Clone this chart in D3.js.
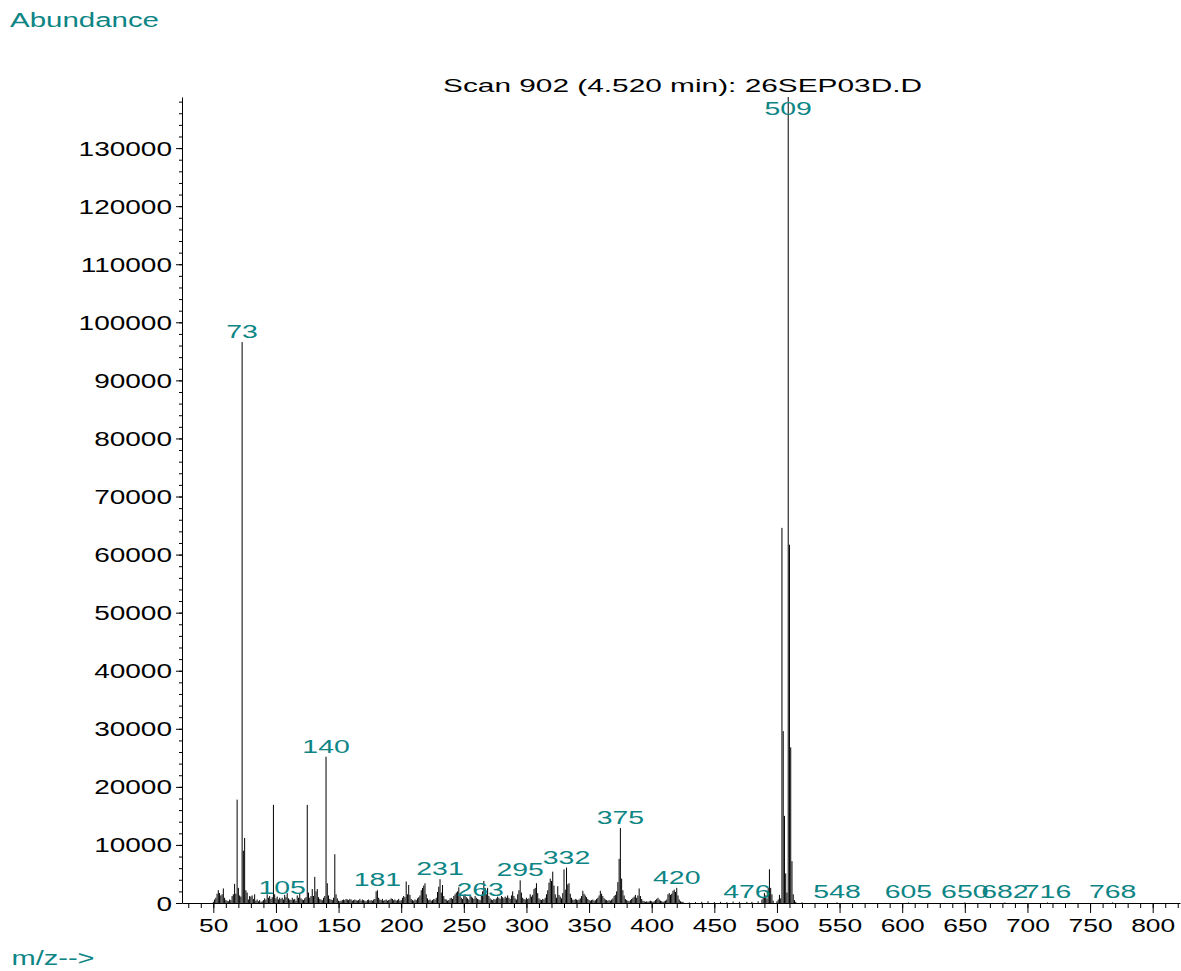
<!DOCTYPE html>
<html>
<head>
<meta charset="utf-8">
<script src="https://cdn.jsdelivr.net/npm/d3@7"></script>
<style>
  body { margin: 0; background: #fff; }
  svg { display: block; }
  text { font-family: "Liberation Sans", Arial, sans-serif; }
</style>
</head>
<body>
<svg id="chart" width="1181" height="971"></svg>
<script>
// ---- data ----
const title = "Scan 902 (4.520 min): 26SEP03D.D";
const yLabel = "Abundance";
const xLabel = "m/z-->";

const mz = [
  50,51,52,53,54,55,56,57,58,59,60,61,62,63,64,65,66,67,68,69,70,71,72,73,74,75,76,77,78,79,
  80,81,82,83,84,85,86,87,88,89,90,91,92,93,94,95,96,97,98,99,100,101,102,103,104,105,106,107,108,109,
  110,111,112,113,114,115,116,117,118,119,120,121,122,123,124,125,126,127,128,129,130,131,132,133,134,135,136,137,138,139,
  140,141,142,143,144,145,146,147,148,149,150,151,152,153,154,155,156,157,158,159,160,161,162,163,164,165,166,167,168,169,
  170,171,172,173,174,175,176,177,178,179,180,181,182,183,184,185,186,187,188,189,190,191,192,193,194,195,196,197,198,199,
  200,201,202,203,204,205,206,207,208,209,210,211,212,213,214,215,216,217,218,219,220,221,222,223,224,225,226,227,228,229,
  230,231,232,233,234,235,236,237,238,239,240,241,242,243,244,245,246,247,248,249,250,251,252,253,254,255,256,257,258,259,
  260,261,262,263,264,265,266,267,268,269,270,271,272,273,274,275,276,277,278,279,280,281,282,283,284,285,286,287,288,289,
  290,291,292,293,294,295,296,297,298,299,300,301,302,303,304,305,306,307,308,309,310,311,312,313,314,315,316,317,318,319,
  320,321,322,323,324,325,326,327,328,329,330,331,332,333,334,335,336,337,338,339,340,341,342,343,344,345,346,347,348,349,
  350,351,352,353,354,355,356,357,358,359,360,361,362,363,364,365,366,367,368,369,370,371,372,373,374,375,376,377,378,379,
  380,381,382,383,384,385,386,387,388,389,390,391,392,393,394,395,396,397,398,399,400,401,402,403,404,405,406,407,408,409,
  410,411,412,413,414,415,416,417,418,419,420,421,422,423,424,425,430,435,440,445,450,455,460,465,470,476,480,485,
  488,489,490,491,492,493,494,495,496,497,500,501,502,503,504,505,506,507,508,509,510,511,512,513,514,515,520,
  548,605,650,682,716,768
];
const abundance = [
  200,600,900,1600,2200,1700,1300,1500,2500,900,500,400,300,600,500,1200,1500,3300,1600,17800,2600,1300,1100,96600,9000,11200,2200,1800,600,1200,
  1100,1300,700,1500,400,600,300,500,200,300,500,800,600,1500,900,1200,700,1000,16900,1500,800,1100,600,900,700,900,600,1400,1000,1700,
  800,600,500,900,600,700,400,1300,900,1700,800,600,500,800,1000,16900,1800,900,1200,2400,1200,4500,2000,2400,1000,700,600,500,900,1200,
  25200,3400,1300,700,600,500,900,8400,1500,800,400,300,400,500,600,500,700,600,500,700,600,400,500,600,500,400,500,700,400,600,
  500,400,300,500,600,400,500,400,600,700,2000,2200,900,600,500,700,400,500,600,400,500,600,800,700,500,600,400,500,700,400,
  500,900,1200,1000,3700,1500,3100,1400,700,500,400,600,500,800,1000,1300,2200,2600,3000,3400,1500,800,500,600,400,500,700,600,900,1900,
  2800,4100,1800,3100,1200,700,600,400,500,800,900,700,1200,1500,1800,2000,2700,1400,900,700,1200,1500,1000,800,600,1300,1100,900,700,1200,
  900,700,600,500,1400,2000,3800,2600,1500,2600,1200,800,600,500,700,600,800,1100,900,700,1200,1000,800,1100,900,1300,900,700,1300,2000,
  1200,800,600,1500,2200,3900,1800,900,700,600,900,700,800,1500,1100,1400,2400,2600,3400,1700,800,600,500,700,600,900,1500,2200,3500,4200,
  3800,5400,3000,1500,900,2900,1400,1100,800,1700,5800,2300,6100,3200,3400,1600,900,600,500,700,600,500,600,800,1200,2100,1600,1300,1000,700,
  500,400,500,600,400,500,700,900,1300,2100,1600,1200,800,600,500,400,500,400,600,800,1200,1400,2000,3600,7600,12900,4200,2200,1300,700,
  500,400,300,500,700,900,1100,1400,900,1300,2500,1200,700,400,300,200,300,200,300,400,300,200,300,500,700,900,600,400,300,200,
  300,400,600,1500,1700,1400,1600,2100,2300,1900,2600,1300,600,300,200,200,100,150,200,300,150,200,150,250,200,200,200,300,
  600,900,1700,1300,800,2600,5800,2600,1500,400,300,600,1400,800,64600,29600,15000,5100,1800,138800,61700,26800,7200,1500,500,200,100,
  120,100,100,100,100,100
];
const labeledPeaks = [73,105,140,181,231,263,295,332,375,420,476,509,548,605,650,682,716,768];
const yMajorTicks = [0,10000,20000,30000,40000,50000,60000,70000,80000,90000,100000,110000,120000,130000];
const xMajorTicks = [50,100,150,200,250,300,350,400,450,500,550,600,650,700,750,800];

// ---- layout ----
const svg = d3.select("#chart");
const pL = 182, pR = 1180, pT = 97, pB = 903;
const teal = "#0d8585";

const x = d3.scaleLinear().domain([25, 821.8]).range([pL, pR]);
const y = d3.scaleLinear().domain([0, 138800]).range([pB, pT]);

const lookup = new Map(mz.map((m, i) => [m, abundance[i]]));

// spectrum sticks
svg.append("g").selectAll("line").data(mz).join("line")
  .attr("x1", d => x(d)).attr("x2", d => x(d))
  .attr("y1", y(0)).attr("y2", d => y(lookup.get(d)))
  .attr("stroke", "#000").attr("stroke-width", 1);

// y axis: minor ticks
const yMinor = d3.range(0, 138001, 2000);
svg.append("g").attr("transform", `translate(${pL},0)`)
  .call(d3.axisLeft(y).tickValues(yMinor).tickSize(3).tickFormat(""))
  .call(g => g.select(".domain").remove())
  .selectAll("line").attr("stroke", "#000");
// y axis: major
const yAx = svg.append("g").attr("transform", `translate(${pL},0)`)
  .call(d3.axisLeft(y).tickValues(yMajorTicks).tickSize(6).tickSizeOuter(0).tickFormat(d3.format("d")));
yAx.select(".domain").attr("stroke", "#000");
yAx.selectAll("text")
  .attr("x", null).attr("dy", null)
  .attr("fill", "#000").attr("font-size", 20)
  .attr("font-family", "Liberation Sans, Arial, sans-serif")
  .attr("transform", "translate(-10,7) scale(1.4,1)");

// x axis: minor
const xMinor = d3.range(30, 821, 10);
svg.append("g").attr("transform", `translate(0,${pB})`)
  .call(d3.axisBottom(x).tickValues(xMinor).tickSize(5).tickFormat(""))
  .call(g => g.select(".domain").remove())
  .selectAll("line").attr("stroke", "#000");
// x axis: major
const xAx = svg.append("g").attr("transform", `translate(0,${pB})`)
  .call(d3.axisBottom(x).tickValues(xMajorTicks).tickSize(10).tickSizeOuter(0).tickFormat(d3.format("d")));
xAx.select(".domain").attr("stroke", "#000");
xAx.selectAll("text")
  .attr("y", null).attr("dy", null)
  .attr("fill", "#000").attr("font-size", 18.6)
  .attr("font-family", "Liberation Sans, Arial, sans-serif")
  .attr("transform", "translate(0,29) scale(1.42,1)");

// peak labels
svg.append("g").selectAll("text").data(labeledPeaks).join("text")
  .attr("transform", d => {
    const base = Math.max(y(lookup.get(d)) - 4, pT + 18);
    return `translate(${x(d)},${base}) scale(1.53,1)`;
  })
  .attr("text-anchor", "middle")
  .attr("font-size", 18.6)
  .attr("fill", teal)
  .text(d => d);

// title and axis captions
svg.append("text").attr("x", 443).attr("y", 92)
  .attr("font-size", 18.7).attr("textLength", 479).attr("lengthAdjust", "spacingAndGlyphs")
  .attr("fill", "#000").text(title);
svg.append("text").attr("x", 10).attr("y", 26.7)
  .attr("font-size", 19.5).attr("textLength", 149).attr("lengthAdjust", "spacingAndGlyphs")
  .attr("fill", teal).text(yLabel);
svg.append("text").attr("x", 11.5).attr("y", 965)
  .attr("font-size", 19.5).attr("textLength", 83).attr("lengthAdjust", "spacingAndGlyphs")
  .attr("fill", teal).text(xLabel);
</script>
</body>
</html>
